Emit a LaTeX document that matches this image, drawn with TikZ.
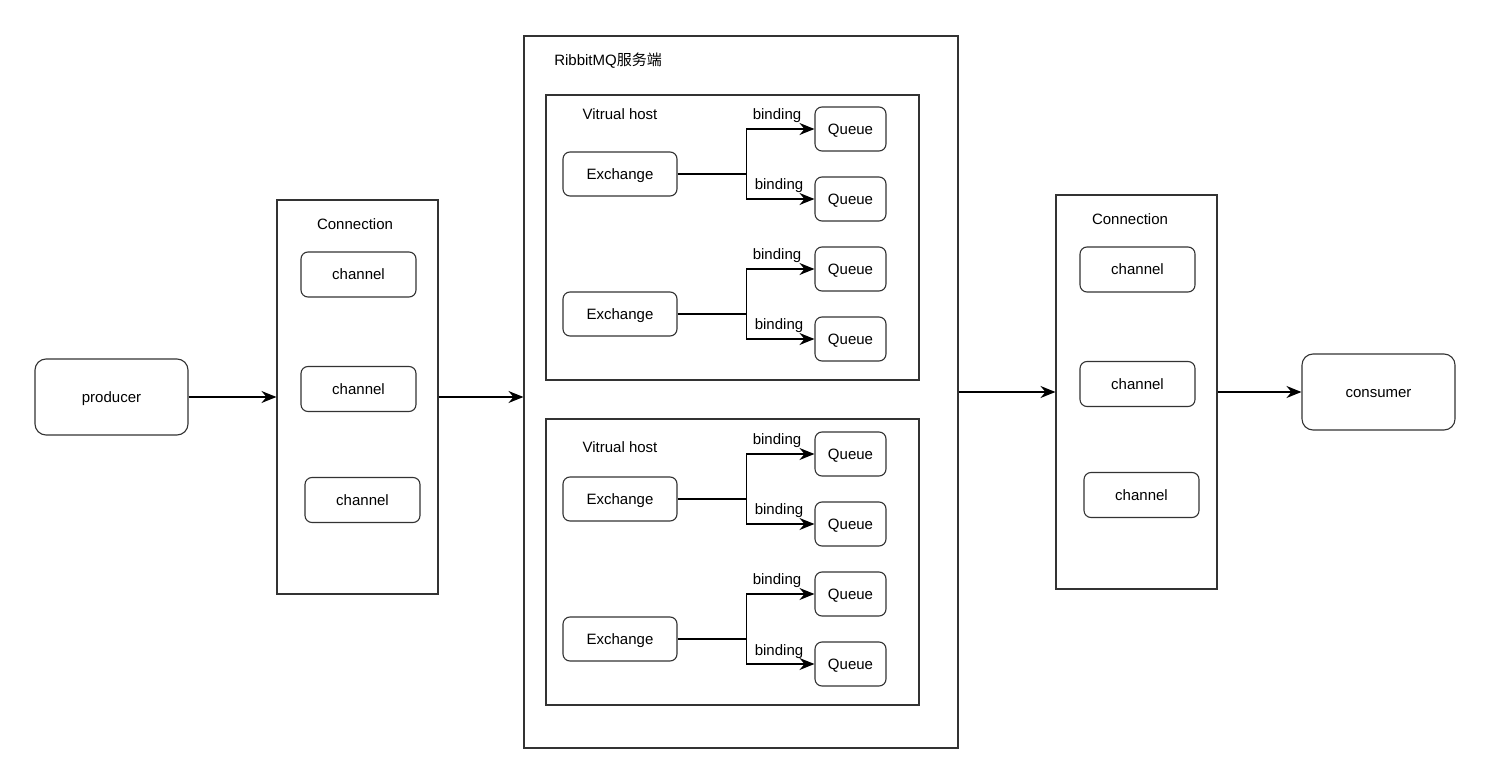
\documentclass[tikz,border=0pt]{standalone}
\usepackage{fontspec}
\setmainfont{Liberation Sans}
\newfontfamily\cjkfont{Noto Sans CJK SC}
\usetikzlibrary{arrows.meta}
\tikzset{
  txt/.style={font=\fontsize{15}{18}\selectfont, text height=13.6pt, text depth=3.2pt},
  box/.style={draw=black!80, line width=1.1pt, inner sep=0pt, txt},
  rbox/.style={box, rounded corners=7pt},
  bigr/.style={box, rounded corners=11pt},
  lbl/.style={inner sep=0pt, txt},
  arr/.style={line width=1.2pt, draw=black, -{Stealth[length=15pt,width=12pt,inset=5pt]}},
  ln/.style={line width=1.2pt, draw=black}
}
\begin{document}
\begin{tikzpicture}[x=1pt,y=-1pt]
\useasboundingbox[fill=white] (0,0) rectangle (1504,783);
% big containers
\node[box, minimum width=434, minimum height=712] (rmq) at (741,392) {};
\node[box, minimum width=161, minimum height=394] (conL) at (357.5,397) {};
\node[box, minimum width=161, minimum height=394] (conR) at (1136.5,392) {};
\node[box, minimum width=373, minimum height=285] (vh1) at (732.5,237.5) {};
\node[box, minimum width=373, minimum height=286] (vh2) at (732.5,562) {};
% labels
\node[lbl] (trmq) at (608,60) {RibbitMQ{\cjkfont 服务端}};
\node[lbl] (tconL) at (355,224) {Connection};
\node[lbl] (tconR) at (1130,219) {Connection};
\node[lbl] (tvh1) at (620,114) {Vitrual host};
\node[lbl] (tvh2) at (620,447) {Vitrual host};
% producer / consumer
\node[bigr, minimum width=153, minimum height=76] (prod) at (111.5,397) {producer};
\node[bigr, minimum width=153, minimum height=76] (cons) at (1378.5,392) {consumer};
% channels
\node[rbox, minimum width=115, minimum height=45] (cl1) at (358.5,274.5) {channel};
\node[rbox, minimum width=115, minimum height=45] (cl2) at (358.5,389) {channel};
\node[rbox, minimum width=115, minimum height=45] (cl3) at (362.5,500) {channel};
\node[rbox, minimum width=115, minimum height=45] (cr1) at (1137.5,269.5) {channel};
\node[rbox, minimum width=115, minimum height=45] (cr2) at (1137.5,384) {channel};
\node[rbox, minimum width=115, minimum height=45] (cr3) at (1141.5,495) {channel};
% exchanges
\node[rbox, minimum width=114, minimum height=44] (e1) at (620,174) {Exchange};
\node[rbox, minimum width=114, minimum height=44] (e2) at (620,314) {Exchange};
\node[rbox, minimum width=114, minimum height=44] (e3) at (620,499) {Exchange};
\node[rbox, minimum width=114, minimum height=44] (e4) at (620,639) {Exchange};
% queues
\foreach \n/\y in {q1/129,q2/199,q3/269,q4/339,q5/454,q6/524,q7/594,q8/664}{
  \node[rbox, minimum width=71, minimum height=44] (\n) at (850.5,\y) {Queue};
}
% binding labels
\foreach \n/\x/\y in {b1/777/114,b2/779/184,b3/777/254,b4/779/324,b5/777/439,b6/779/509,b7/777/579,b8/779/650}{
  \node[lbl] (\n) at (\x,\y) {binding};
}
% exchange -> queue edges
\foreach \e/\qa/\qb in {e1/q1/q2,e2/q3/q4,e3/q5/q6,e4/q7/q8}{
  \draw[ln] (\e.east) -- ++(69,0) coordinate (\e j);
  \draw[arr] (\e j) |- (\qa.west);
  \draw[arr] (\e j) |- (\qb.west);
}
% main flow
\draw[arr] (prod.east) -- (conL.west |- prod.east);
\draw[arr] (conL.east |- prod.east) -- (rmq.west |- prod.east);
\draw[arr] (rmq.east |- conR.west) -- (conR.west);
\draw[arr] (conR.east) -- (cons.west);
\end{tikzpicture}
\end{document}
